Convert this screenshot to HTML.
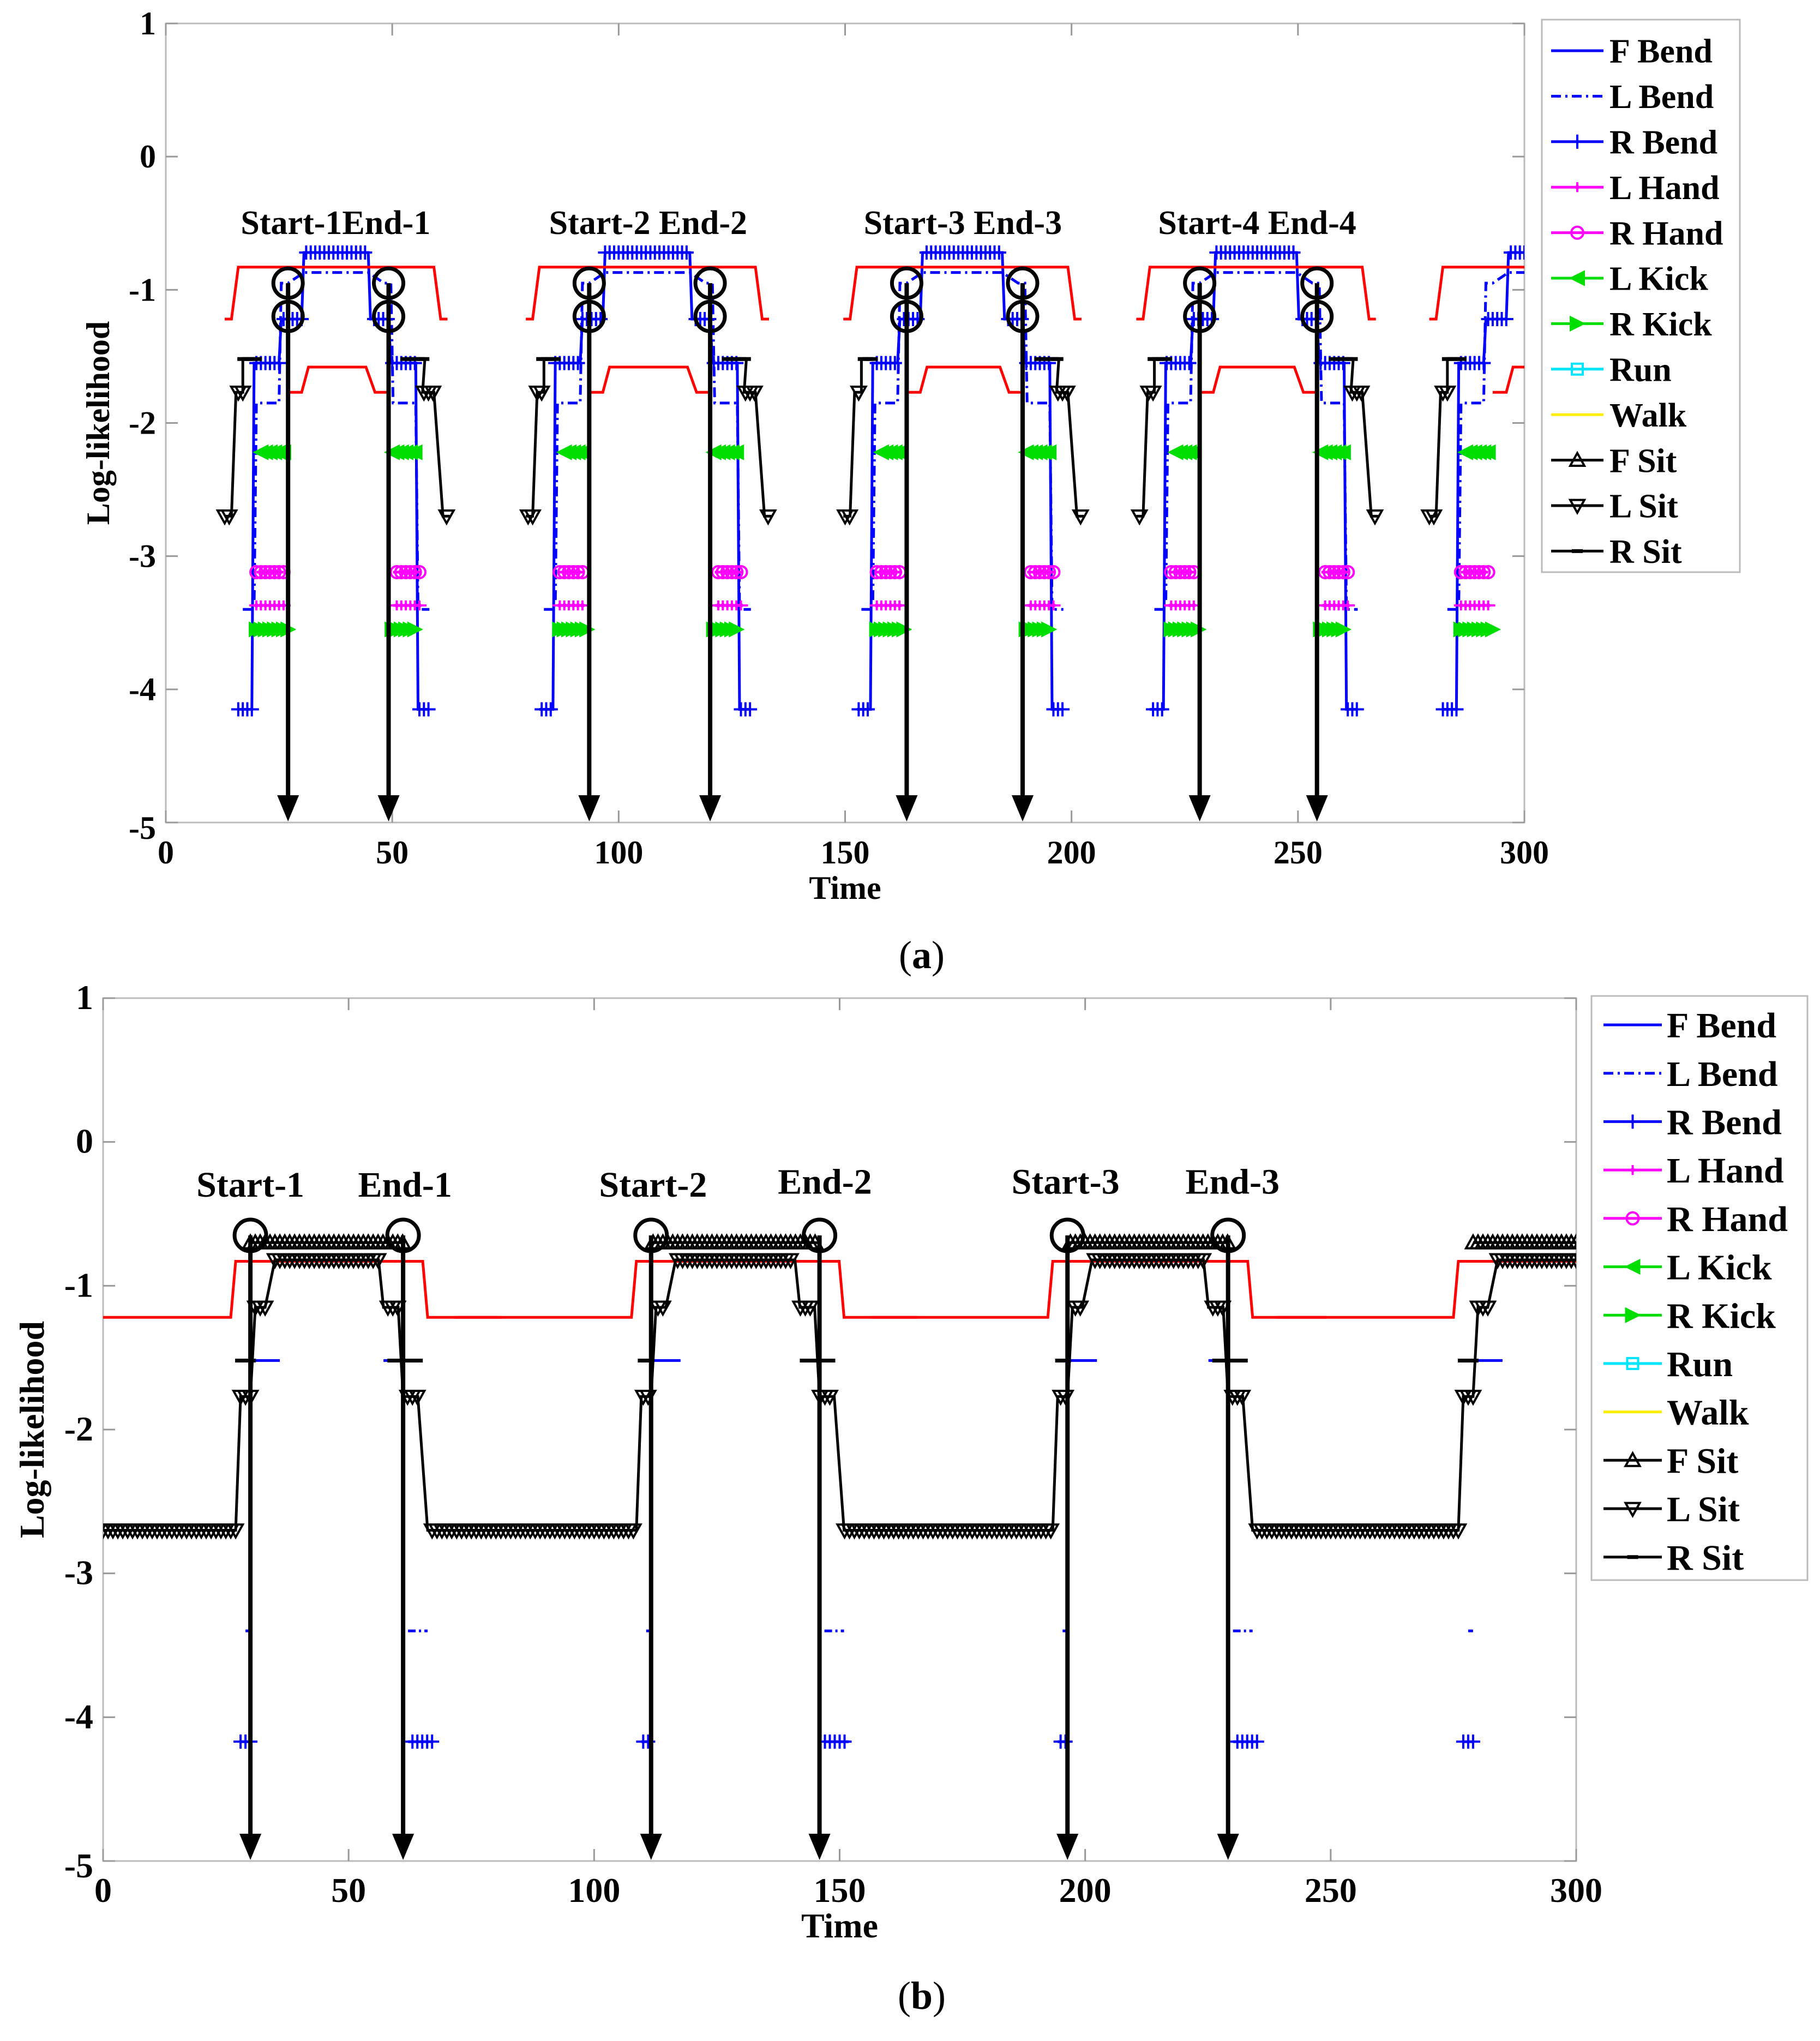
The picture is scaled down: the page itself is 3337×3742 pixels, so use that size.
<!DOCTYPE html>
<html><head><meta charset="utf-8"><style>
html,body{margin:0;padding:0;background:#fff}
svg{display:block}
text{font-family:"Liberation Serif",serif;font-weight:bold;fill:#000}
</style></head><body>
<svg id="fig" width="3337" height="3742" viewBox="0 0 3337 3742" xmlns="http://www.w3.org/2000/svg">
<defs>
<clipPath id="clipA"><rect x="304" y="43" width="2491" height="1465"/></clipPath>
<clipPath id="clipB"><rect x="189" y="1830" width="2701" height="1582"/></clipPath>
</defs>
<g id="layer"></g>
<text x="1690" y="1775" font-size="72" text-anchor="middle" style="font-weight:normal">(<tspan font-weight="bold">a</tspan>)</text>
<text x="1690" y="3683" font-size="72" text-anchor="middle" style="font-weight:normal">(<tspan font-weight="bold">b</tspan>)</text>
</svg>
<script>
// ---- data ----
const xTicks=[0,50,100,150,200,250,300];
const yTicks=[1,0,-1,-2,-3,-4,-5];
const startsA=[27,93.5,163.6,228.3,293];
const endsA=[49.2,120.2,189.2,254.2,320];
const arrowStartsA=[27,93.5,163.6,228.3];
const arrowEndsA=[49.2,120.2,189.2,254.2];
const startsB=[30,111.6,196.4,279];
const endsB=[61.1,145.9,229.1,330];
const arrowStartsB=[30,111.6,196.4];
const arrowEndsB=[61.1,145.9,229.1];
const legendNames=["F Bend","L Bend","R Bend","L Hand","R Hand","L Kick","R Kick","Run","Walk","F Sit","L Sit","R Sit"];
// series templates [ref(0=start,1=end), dt, value], null = break
const aRed=[[0,-14,-1.22],[0,-12.5,-1.22],[0,-11,-0.83],[1,10,-0.83],[1,11.5,-1.22],[1,13,-1.22],null,[0,0,-1.77],[0,3,-1.77],[0,4.5,-1.58],[1,-5,-1.58],[1,-3,-1.77],[1,0,-1.77]];
const aRBend=[[0,-11,-4.15],[0,-8,-4.15],[0,-7.5,-1.55],[0,-2,-1.55],[0,-1.5,-1.22],[0,3,-1.22],[0,3.5,-0.72],[1,-4.5,-0.72],[1,-4,-1.22],[1,0,-1.22],[1,0.5,-1.55],[1,6,-1.55],[1,6.5,-4.15],[1,9,-4.15]];
const aLBend=[[0,-10,-3.4],[0,-7.5,-3.4],[0,-7,-1.85],[0,-2,-1.85],[0,-1.5,-0.95],[0,0,-0.95],[0,3.5,-0.87],[1,-4.5,-0.87],[1,-1,-0.95],[1,0.5,-0.95],[1,1,-1.85],[1,6,-1.85],[1,6.5,-3.4],[1,9,-3.4]];
const aLHand=[[0,-7,-3.37],[0,-1,-3.37],null,[1,1,-3.37],[1,7,-3.37]];
const aRHand=[[0,-7,-3.12],[0,-1,-3.12],null,[1,1,-3.12],[1,7,-3.12]];
const aLKick=[[0,-6,-2.22],[0,-1,-2.22],null,[1,0,-2.22],[1,6,-2.22]];
const aRKick=[[0,-7,-3.55],[0,0,-3.55],null,[1,0,-3.55],[1,6,-3.55]];
const aLSit=[[0,-14,-2.7],[0,-12.5,-2.7],[0,-11.5,-1.77],[0,-10,-1.77],[0,-10,-1.52],null,[1,8,-1.52],[1,7.5,-1.77],[1,10,-1.77],[1,12,-2.7],[1,13.5,-2.7]];
const aRSit=[[0,-10.5,-1.52],[0,-7,-1.52],null,[1,3,-1.52],[1,8,-1.52]];
const bRed=[[0,-40,-1.22],[0,-4,-1.22],[0,-3,-0.83],[1,4,-0.83],[1,5,-1.22],[1,20,-1.22]];
const bLSit=[[0,-40,-2.7],[0,-3,-2.7],[0,-2,-1.77],[0,0,-1.77],[0,1,-1.15],[0,3,-1.15],[0,5,-0.82],[1,-5,-0.82],[1,-4,-1.15],[1,-1,-1.15],[1,0,-1.77],[1,3,-1.77],[1,5,-2.7],[1,20,-2.7]];
const bFSit=[[0,0,-0.7],[1,0,-0.7]];
const bRSit=[[0,-2,-1.52],[0,0,-1.52],null,[1,-3,-1.52],[1,3,-1.52]];
const bFBend=[[0,0,-1.52],[0,6,-1.52],null,[1,-4,-1.52],[1,0,-1.52]];
const bLBend=[[0,-1,-3.4],[0,0,-3.4],null,[1,1,-3.4],[1,5,-3.4]];
const bRBend=[[0,-2,-4.17],[0,0,-4.17],null,[1,1,-4.17],[1,6,-4.17]];

const NS="http://www.w3.org/2000/svg";
const layer=document.getElementById('layer');
function mk(tag,attrs,parent){const e=document.createElementNS(NS,tag);for(const k in attrs)e.setAttribute(k,attrs[k]);(parent||layer).appendChild(e);return e;}

function panel(P){
  const sx=t=>P.L+(t/300)*(P.R-P.L);
  const sy=v=>P.T+((1-v)/6)*(P.B-P.T);
  const g=mk('g',{});
  
  
  const box=mk('rect',{x:P.L,y:P.T,width:P.R-P.L,height:P.B-P.T,fill:'#fff',stroke:'#bbb','stroke-width':3},g);
  
  
  xTicks.forEach(t=>{
    mk('line',{x1:sx(t),x2:sx(t),y1:P.B,y2:P.B-22,stroke:'#999','stroke-width':3},g);
    mk('line',{x1:sx(t),x2:sx(t),y1:P.T,y2:P.T+22,stroke:'#999','stroke-width':3},g);
    const tx=mk('text',{x:sx(t),y:P.B+75,'font-size':P.fs,'text-anchor':'middle'},g);
    tx.textContent=t;
    
    
  });
  yTicks.forEach(v=>{
    mk('line',{x1:P.L,x2:P.L+22,y1:sy(v),y2:sy(v),stroke:'#999','stroke-width':3},g);
    mk('line',{x1:P.R,x2:P.R-22,y1:sy(v),y2:sy(v),stroke:'#999','stroke-width':3},g);
    const tx=mk('text',{x:P.L-18,y:sy(v)+(v===-5?30:20),'font-size':P.fs,'text-anchor':'end'},g);
    tx.textContent=v;
    
    
  });
  const xl=mk('text',{x:(P.L+P.R)/2,y:P.B+140,'font-size':P.fs,'text-anchor':'middle'},g);
  xl.textContent='Time';
  
  
  const yl=mk('text',{x:0,y:0,'font-size':P.fs,'text-anchor':'middle',transform:`translate(${P.ylx},${(P.T+P.B)/2}) rotate(-90)`},g);
  yl.textContent='Log-likelihood';
  
  

  const cg=mk('g',{'clip-path':`url(#${P.clip})`},g);
  function marker(type,x,y,color,par){
    const r=13;
    if(type==='plus'){mk('path',{d:`M${x-r} ${y}H${x+r}M${x} ${y-r}V${y+r}`,stroke:color,'stroke-width':4,fill:'none'},par);}
    else if(type==='diamond'){mk('path',{d:`M${x-r} ${y}H${x+r}M${x} ${y-r*0.7}V${y+r*0.7}`,stroke:color,'stroke-width':4},par);mk('circle',{cx:x,cy:y,r:4,fill:color},par);}
    else if(type==='circle'){mk('circle',{cx:x,cy:y,r:11,stroke:color,'stroke-width':4,fill:'none'},par);}
    else if(type==='tl'){mk('path',{d:`M${x-r} ${y}L${x+r} ${y-r}L${x+r} ${y+r}Z`,fill:color,stroke:color,'stroke-width':2},par);}
    else if(type==='tr'){mk('path',{d:`M${x+r} ${y}L${x-r} ${y-r}L${x-r} ${y+r}Z`,fill:color,stroke:color,'stroke-width':2},par);}
    else if(type==='tu'){mk('path',{d:`M${x} ${y-r}L${x-r} ${y+r*0.8}L${x+r} ${y+r*0.8}Z`,fill:'none',stroke:color,'stroke-width':4},par);}
    else if(type==='td'){mk('path',{d:`M${x} ${y+r}L${x-r} ${y-r*0.8}L${x+r} ${y-r*0.8}Z`,fill:'none',stroke:color,'stroke-width':4},par);}
    else if(type==='dot'){mk('path',{d:`M${x-10} ${y}H${x+10}`,stroke:color,'stroke-width':7},par);}
  }
  P.series.forEach(S=>{
    const sg=mk('g',{},cg);
    
    
    for(let i=0;i<P.starts.length;i++){
      const s=P.starts[i],e=P.ends[i];
      let segs=[[]];
      S.tmpl.forEach(p=>{if(p===null){segs.push([]);}else segs[segs.length-1].push([(p[0]?e:s)+p[1],p[2]]);});
      segs.forEach(seg=>{
        if(seg.length<2)return;
        const d=seg.map((p,k)=>(k?'L':'M')+sx(p[0]).toFixed(1)+' '+sy(p[1]).toFixed(1)).join('');
        const pl=mk('path',{d:d,fill:'none',stroke:S.color,'stroke-width':5,'stroke-dasharray':S.dash||'none'},sg);
        
        
        if(S.marker){
          for(let k=0;k<seg.length-1;k++){
            const a=seg[k],b=seg[k+1];
            if(a[1]!==b[1])continue;
            for(let t=Math.ceil(a[0]);t<=b[0];t+=1){marker(S.marker,sx(t),sy(a[1]),S.color,sg);}
          }
        }
      });
    }
  });
  const ag=mk('g',{},g);
  
  
  P.arrows.forEach(t=>{
    const x=sx(t);
    P.circ.forEach(v=>{const c=mk('circle',{cx:x,cy:sy(v),r:P.cr,fill:'none',stroke:'#000','stroke-width':7},ag);
      
      });
    mk('line',{x1:x,x2:x,y1:sy(P.circ[0]),y2:P.B-45,stroke:'#000','stroke-width':8},ag);
    const ah=mk('path',{d:`M${x-20} ${P.B-50}L${x+20} ${P.B-50}L${x} ${P.B-2}Z`,fill:'#000'},ag);
    
    
  });
  P.annots.forEach(a=>{
    const tx=mk('text',{x:sx(a[1]),y:sy(a[2]),'font-size':P.afs,'text-anchor':'middle'},g);
    tx.textContent=a[0];
    
    
  });
  const L=P.leg;
  const lg=mk('g',{},g);
  
  
  mk('rect',{x:L.x,y:L.y,width:L.w,height:L.h,fill:'#fff',stroke:'#bbb','stroke-width':3},lg);
  const legStyle=[['#0000ff',null,''],['#0000ff',null,'18 8 4 8'],['#0000ff','plus',''],['#ff00ff','diamond',''],['#ff00ff','circle',''],['#00dd00','tl',''],['#00dd00','tr',''],['#00e5ff','sq',''],['#ffee00',null,''],['#000','tu',''],['#000','td',''],['#000','dot','']];
  legendNames.forEach((n,i)=>{
    const y=L.r0+i*L.step;
    const eg=mk('g',{},lg);
    
    
    const st=legStyle[i];
    mk('line',{x1:L.lx1,x2:L.lx2,y1:y,y2:y,stroke:st[0],'stroke-width':5,'stroke-dasharray':st[2]||'none'},eg);
    const mx=(L.lx1+L.lx2)/2;
    if(st[1]==='sq')mk('rect',{x:mx-10,y:y-10,width:20,height:20,fill:'none',stroke:st[0],'stroke-width':4},eg);
    else if(st[1])marker(st[1],mx,y,st[0],eg);
    const tx=mk('text',{x:L.tx,y:y+L.fs*0.35,'font-size':L.fs},eg);
    tx.textContent=n;
  });
}

const seriesA=[
 {name:'r-bend-series',tmpl:aRBend,color:'#0000ff',marker:'plus'},
 {name:'l-bend-series',tmpl:aLBend,color:'#0000ff',dash:'18 8 4 8'},
 {name:'l-hand-series',tmpl:aLHand,color:'#ff00ff',marker:'diamond'},
 {name:'r-hand-series',tmpl:aRHand,color:'#ff00ff',marker:'circle'},
 {name:'l-kick-series',tmpl:aLKick,color:'#00dd00',marker:'tl'},
 {name:'r-kick-series',tmpl:aRKick,color:'#00dd00',marker:'tr'},
 {name:'l-sit-series',tmpl:aLSit,color:'#000',marker:'td'},
 {name:'r-sit-series',tmpl:aRSit,color:'#000',marker:'dot'},
 {name:'red-series',tmpl:aRed,color:'#ff0000'}
];
panel({name:'panel-a',L:304,R:2795,T:43,B:1508,clip:'clipA',fs:60,afs:62,ylx:200,
 starts:startsA,ends:endsA,series:seriesA,arrows:arrowStartsA.concat(arrowEndsA),circ:[-0.95,-1.2],cr:27,
 annots:[['Start-1End-1',37.5,-0.58],['Start-2  End-2',106.5,-0.58],['Start-3 End-3',176,-0.58],['Start-4 End-4',241,-0.58]],
 leg:{x:2827,y:36,w:363,h:1013,r0:93,step:83.4,lx1:2844,lx2:2940,tx:2951,fs:62}});
const seriesB=[
 {name:'red-series',tmpl:bRed,color:'#ff0000'},
 {name:'f-bend-series',tmpl:bFBend,color:'#0000ff'},
 {name:'l-bend-series',tmpl:bLBend,color:'#0000ff',dash:'14 6 4 6'},
 {name:'r-bend-series',tmpl:bRBend,color:'#0000ff',marker:'plus'},
 {name:'l-sit-series',tmpl:bLSit,color:'#000',marker:'td'},
 {name:'f-sit-series',tmpl:bFSit,color:'#000',marker:'tu'},
 {name:'r-sit-series',tmpl:bRSit,color:'#000',marker:'dot'}
];
panel({name:'panel-b',L:189,R:2890,T:1830,B:3412,clip:'clipB',fs:64,afs:66,ylx:80,
 starts:startsB,ends:endsB,series:seriesB,arrows:arrowStartsB.concat(arrowEndsB),circ:[-0.65],cr:29,
 annots:[['Start-1',30,-0.38],['End-1',61.5,-0.38],['Start-2',112,-0.38],['End-2',147,-0.36],['Start-3',196,-0.36],['End-3',230,-0.36]],
 leg:{x:2918,y:1826,w:396,h:1071,r0:1879,step:88.7,lx1:2940,lx2:3047,tx:3056,fs:66}});
</script>
</body></html>
